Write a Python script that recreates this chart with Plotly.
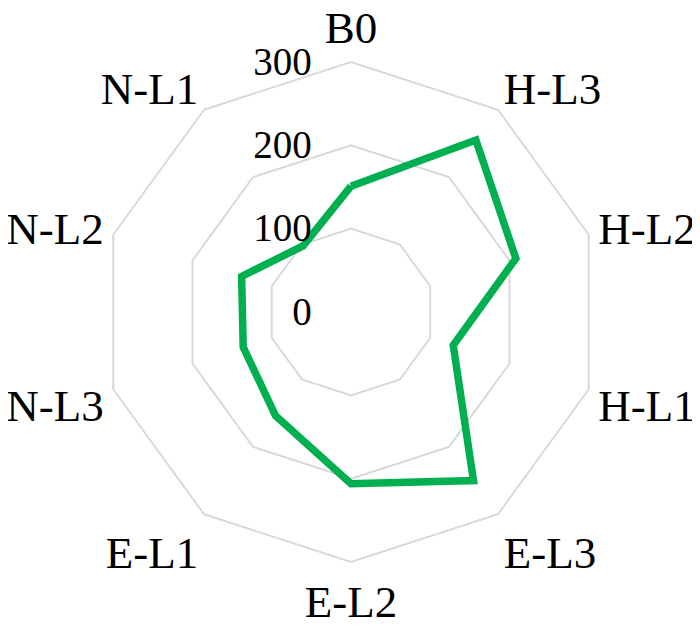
import plotly.graph_objects as go

# Radar data (clockwise from top)
categories = ["B0", "H-L3", "H-L2", "H-L1", "E-L3", "E-L2", "E-L1", "N-L3", "N-L2", "N-L1"]
values = [151, 255, 208, 129, 250, 206, 154, 136, 138, 98]
radial_ticks = [0, 100, 200, 300]

fig = go.Figure()

fig.add_trace(go.Scatterpolar(
    r=values + values[:1],
    theta=categories + categories[:1],
    mode="lines",
    line=dict(color="#00B050", width=7.5),
    showlegend=False,
))

fig.update_layout(
    width=700,
    height=630,
    margin=dict(l=0, r=0, t=0, b=0),
    paper_bgcolor="white",
    font=dict(family="Liberation Serif", color="black"),
    polar=dict(
        domain=dict(x=[93 / 700, 593 / 700], y=[76 / 630, 576 / 630]),
        bgcolor="white",
        gridshape="linear",
        angularaxis=dict(
            rotation=90,
            direction="clockwise",
            showgrid=False,
            showline=True,
            linecolor="#D9D9D9",
            linewidth=2,
            ticks="",
            tickfont=dict(size=45, family="Liberation Serif"),
        ),
        radialaxis=dict(
            range=[0, 300],
            tickvals=radial_ticks,
            angle=90,
            tickangle=90,
            side="counterclockwise",
            showline=False,
            # invisible ticks just push the labels off the axis, as in Excel
            ticks="outside",
            ticklen=25,
            tickcolor="rgba(0,0,0,0)",
            gridcolor="#D9D9D9",
            gridwidth=2,
            tickfont=dict(size=39, family="Liberation Serif"),
        ),
    ),
)

fig.write_html("out.html")
